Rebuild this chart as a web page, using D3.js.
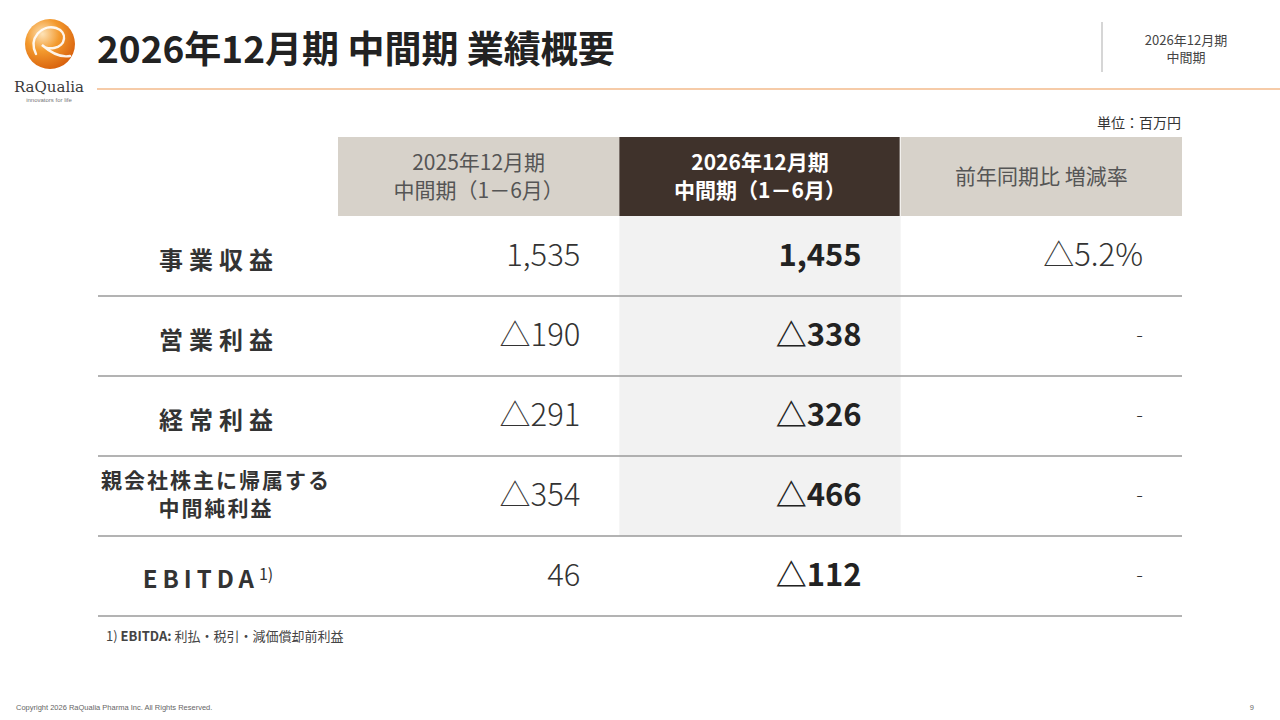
<!DOCTYPE html>
<html>
<head>
<meta charset="utf-8">
<script src="https://cdn.jsdelivr.net/npm/d3@7"></script>
<style>
  body { margin: 0; background: #fff; }
  svg { display: block; font-family: "Noto Sans CJK JP", "Noto Sans", sans-serif; }
</style>
</head>
<body>
<div id="slide"></div>
<script>
// table data
var items = ["事業収益", "営業利益", "経常利益", "親会社株主に帰属する\n中間純利益", "EBITDA"];
var prevValues = [1535, -190, -291, -354, 46];
var currValues = [1455, -338, -326, -466, -112];
var changeRates = [-5.2, null, null, null, null];
var columnHeads = ["2025年12月期\n中間期（1－6月）", "2026年12月期\n中間期（1－6月）", "前年同期比 増減率"];

var svgWidth = 1280;
var svgHeight = 720;

var svg = d3.select("#slide")
  .append("svg")
  .attr("width", svgWidth)
  .attr("height", svgHeight);

// number format: negatives as △
var fmt = d3.format(",");
function tri(v) { return v < 0 ? "△" + fmt(-v) : fmt(v); }
function pct(v) { return v == null ? "-" : (v < 0 ? "△" + (-v).toFixed(1) + "%" : v.toFixed(1) + "%"); }

// ---- header ----
var defs = svg.append("defs");
var grad = defs.append("radialGradient")
  .attr("id", "logoGrad")
  .attr("cx", "35%").attr("cy", "30%").attr("r", "75%");
grad.append("stop").attr("offset", "0%").attr("stop-color", "#fde3b8");
grad.append("stop").attr("offset", "45%").attr("stop-color", "#f39a2e");
grad.append("stop").attr("offset", "100%").attr("stop-color", "#d8600c");

var logo = svg.append("g").attr("transform", "translate(50,44)");
logo.append("circle").attr("r", 25).attr("fill", "url(#logoGrad)");
logo.append("path")
  .attr("d", "M-14,10 C-22,-6 -8,-20 6,-16 C18,-12 16,2 4,4 C-2,5 -6,3 -8,1 C0,8 10,14 20,12")
  .attr("fill", "none").attr("stroke", "#fff").attr("stroke-width", 2.4)
  .attr("stroke-linecap", "round").attr("opacity", 0.9);
svg.append("text").attr("x", 49).attr("y", 92).attr("text-anchor", "middle")
  .attr("font-family", "DejaVu Serif, Liberation Serif, serif").attr("font-size", 15)
  .attr("fill", "#3a3a3a").text("RaQualia");
svg.append("text").attr("x", 49).attr("y", 102).attr("text-anchor", "middle")
  .attr("font-family", "Liberation Sans, sans-serif").attr("font-size", 6)
  .attr("fill", "#777").text("innovators for life");

svg.append("text").attr("x", 97).attr("y", 63)
  .attr("font-size", 37).attr("font-weight", "bold").attr("fill", "#222")
  .text("2026年12月期 中間期 業績概要");

svg.append("line").attr("x1", 97).attr("x2", 1280).attr("y1", 89).attr("y2", 89)
  .attr("stroke", "#f6cba8").attr("stroke-width", 2);
svg.append("line").attr("x1", 1102).attr("x2", 1102).attr("y1", 22).attr("y2", 72)
  .attr("stroke", "#c8c8c8").attr("stroke-width", 1.5);
svg.append("text").attr("x", 1186).attr("y", 45).attr("text-anchor", "middle")
  .attr("font-size", 13).attr("fill", "#444").text("2026年12月期");
svg.append("text").attr("x", 1186).attr("y", 62).attr("text-anchor", "middle")
  .attr("font-size", 13).attr("fill", "#444").text("中間期");

svg.append("text").attr("x", 1181).attr("y", 128).attr("text-anchor", "end")
  .attr("font-size", 14).attr("fill", "#333").text("単位：百万円");

// ---- table ----
var tableLeft = 98, tableRight = 1182;
var x = d3.scaleBand().domain(d3.range(3)).range([338, 1182]);
var y = d3.scaleBand().domain(items).range([216, 616]);

// highlighted column background (rows 1-4)
svg.append("rect")
  .attr("x", x(1)).attr("y", y(items[0]))
  .attr("width", x.bandwidth())
  .attr("height", y(items[3]) + y.bandwidth() - y(items[0]))
  .attr("fill", "#f2f2f2");

// header cells
var heads = svg.selectAll(".head")
  .data(columnHeads)
  .enter()
  .append("g")
  .attr("transform", (d, i) => `translate(${x(i)},137)`);

heads.append("rect")
  .attr("width", (d, i) => x.bandwidth() - (i === 1 ? 1 : 0))
  .attr("height", 79)
  .attr("fill", (d, i) => i === 1 ? "#3f322b" : "#d7d2ca");

heads.each(function(d, i) {
  var g = d3.select(this);
  var lines = d.split("\n");
  lines.forEach(function(l, k) {
    g.append("text")
      .attr("text-anchor", "middle")
      .attr("font-size", 21)
      .attr("font-weight", i === 1 ? "bold" : "normal")
      .attr("fill", i === 1 ? "#fff" : "#555")
      .attr("x", x.bandwidth() / 2)
      .attr("y", 40 + (k - (lines.length - 1) / 2) * 28 + 7)
      .text(l);
  });
});

// row separator lines
svg.selectAll(".rowline")
  .data(items)
  .enter()
  .append("line")
  .attr("x1", tableLeft).attr("x2", tableRight)
  .attr("y1", d => y(d) + y.bandwidth())
  .attr("y2", d => y(d) + y.bandwidth())
  .attr("stroke", "#9a9a9a").attr("stroke-width", 1.5);

// row labels
var labelX = 216;
items.forEach(function(d, i) {
  var cy = y(d) + y.bandwidth() / 2;
  var lines = d.split("\n");
  if (d === "EBITDA") {
    var t = svg.append("text").attr("x", labelX - 8).attr("y", cy + 12)
      .attr("text-anchor", "middle").attr("font-size", 24).attr("font-weight", "bold")
      .attr("fill", "#333").attr("letter-spacing", 5);
    t.append("tspan").text(d);
    t.append("tspan").attr("font-size", 16).attr("font-weight", "normal")
      .attr("dy", -8).attr("letter-spacing", 0).text("1)");
  } else if (lines.length > 1) {
    lines.forEach(function(l, k) {
      svg.append("text").attr("x", labelX).attr("y", cy + 6 + (k - 0.5) * 28)
        .attr("text-anchor", "middle").attr("font-size", 21).attr("font-weight", "bold")
        .attr("fill", "#333").attr("letter-spacing", 2).text(l);
    });
  } else {
    svg.append("text").attr("x", labelX + 3).attr("y", cy + 13)
      .attr("text-anchor", "middle").attr("font-size", 24).attr("font-weight", "bold")
      .attr("fill", "#333").attr("letter-spacing", 6).text(d);
  }
});

// values
var pad = 39;
svg.selectAll(".prev")
  .data(prevValues)
  .enter()
  .append("text")
  .attr("x", x(0) + x.bandwidth() - pad)
  .attr("y", (d, i) => y(items[i]) + y.bandwidth() / 2 + 10)
  .attr("text-anchor", "end").attr("font-size", 31).attr("font-weight", 300)
  .attr("fill", "#333")
  .text(tri);

svg.selectAll(".curr")
  .data(currValues)
  .enter()
  .append("text")
  .attr("x", x(1) + x.bandwidth() - pad)
  .attr("y", (d, i) => y(items[i]) + y.bandwidth() / 2 + 10)
  .attr("text-anchor", "end").attr("font-size", 31).attr("font-weight", "bold")
  .attr("fill", "#222")
  .text(tri);

svg.selectAll(".chg")
  .data(changeRates)
  .enter()
  .append("text")
  .attr("x", x(2) + x.bandwidth() - pad)
  .attr("y", (d, i) => y(items[i]) + y.bandwidth() / 2 + (d == null ? 6 : 10))
  .attr("text-anchor", "end").attr("font-size", d => d == null ? 20 : 31).attr("font-weight", 300)
  .attr("fill", "#333")
  .text(pct);

// footnote
var fn = svg.append("text").attr("x", 106).attr("y", 641).attr("font-size", 13).attr("fill", "#444");
fn.append("tspan").text("1) ");
fn.append("tspan").attr("font-weight", "bold").text("EBITDA:");
fn.append("tspan").text(" 利払・税引・減価償却前利益");

// footer
svg.append("text").attr("x", 16).attr("y", 710)
  .attr("font-family", "Liberation Sans, sans-serif").attr("font-size", 7.5)
  .attr("fill", "#666").text("Copyright 2026 RaQualia Pharma Inc. All Rights Reserved.");
svg.append("text").attr("x", 1254).attr("y", 710).attr("text-anchor", "end")
  .attr("font-family", "Liberation Sans, sans-serif").attr("font-size", 7.5)
  .attr("fill", "#666").text("9");
</script>
</body>
</html>
